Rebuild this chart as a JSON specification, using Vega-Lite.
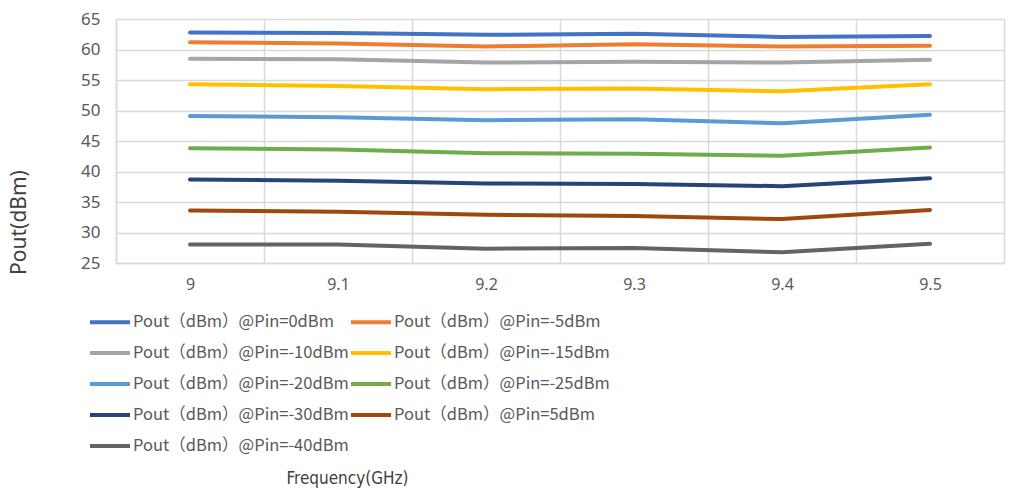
{
  "$schema": "https://vega.github.io/schema/vega-lite/v6.json",
  "autosize": "none",
  "width": 888,
  "height": 244,
  "padding": {"left": 116, "top": 19, "right": 10, "bottom": 227},
  "background": "white",
  "config": {
    "view": {"stroke": null},
    "font": "Noto Sans"
  },
  "data": {
    "values": [
      {"f": "9", "s": "Pout（dBm）@Pin=0dBm", "p": 62.8},
      {"f": "9.1", "s": "Pout（dBm）@Pin=0dBm", "p": 62.7},
      {"f": "9.2", "s": "Pout（dBm）@Pin=0dBm", "p": 62.4},
      {"f": "9.3", "s": "Pout（dBm）@Pin=0dBm", "p": 62.6},
      {"f": "9.4", "s": "Pout（dBm）@Pin=0dBm", "p": 62.05},
      {"f": "9.5", "s": "Pout（dBm）@Pin=0dBm", "p": 62.2},
      {"f": "9", "s": "Pout（dBm）@Pin=-5dBm", "p": 61.2},
      {"f": "9.1", "s": "Pout（dBm）@Pin=-5dBm", "p": 61.0},
      {"f": "9.2", "s": "Pout（dBm）@Pin=-5dBm", "p": 60.5},
      {"f": "9.3", "s": "Pout（dBm）@Pin=-5dBm", "p": 60.85},
      {"f": "9.4", "s": "Pout（dBm）@Pin=-5dBm", "p": 60.5},
      {"f": "9.5", "s": "Pout（dBm）@Pin=-5dBm", "p": 60.6},
      {"f": "9", "s": "Pout（dBm）@Pin=-10dBm", "p": 58.5},
      {"f": "9.1", "s": "Pout（dBm）@Pin=-10dBm", "p": 58.4},
      {"f": "9.2", "s": "Pout（dBm）@Pin=-10dBm", "p": 57.85},
      {"f": "9.3", "s": "Pout（dBm）@Pin=-10dBm", "p": 58.0},
      {"f": "9.4", "s": "Pout（dBm）@Pin=-10dBm", "p": 57.85},
      {"f": "9.5", "s": "Pout（dBm）@Pin=-10dBm", "p": 58.3},
      {"f": "9", "s": "Pout（dBm）@Pin=-15dBm", "p": 54.3},
      {"f": "9.1", "s": "Pout（dBm）@Pin=-15dBm", "p": 54.0},
      {"f": "9.2", "s": "Pout（dBm）@Pin=-15dBm", "p": 53.5},
      {"f": "9.3", "s": "Pout（dBm）@Pin=-15dBm", "p": 53.6},
      {"f": "9.4", "s": "Pout（dBm）@Pin=-15dBm", "p": 53.15},
      {"f": "9.5", "s": "Pout（dBm）@Pin=-15dBm", "p": 54.3},
      {"f": "9", "s": "Pout（dBm）@Pin=-20dBm", "p": 49.1},
      {"f": "9.1", "s": "Pout（dBm）@Pin=-20dBm", "p": 48.9},
      {"f": "9.2", "s": "Pout（dBm）@Pin=-20dBm", "p": 48.4},
      {"f": "9.3", "s": "Pout（dBm）@Pin=-20dBm", "p": 48.55},
      {"f": "9.4", "s": "Pout（dBm）@Pin=-20dBm", "p": 47.9},
      {"f": "9.5", "s": "Pout（dBm）@Pin=-20dBm", "p": 49.3},
      {"f": "9", "s": "Pout（dBm）@Pin=-25dBm", "p": 43.8},
      {"f": "9.1", "s": "Pout（dBm）@Pin=-25dBm", "p": 43.6},
      {"f": "9.2", "s": "Pout（dBm）@Pin=-25dBm", "p": 43.0},
      {"f": "9.3", "s": "Pout（dBm）@Pin=-25dBm", "p": 42.9},
      {"f": "9.4", "s": "Pout（dBm）@Pin=-25dBm", "p": 42.6},
      {"f": "9.5", "s": "Pout（dBm）@Pin=-25dBm", "p": 43.95},
      {"f": "9", "s": "Pout（dBm）@Pin=-30dBm", "p": 38.7},
      {"f": "9.1", "s": "Pout（dBm）@Pin=-30dBm", "p": 38.5},
      {"f": "9.2", "s": "Pout（dBm）@Pin=-30dBm", "p": 38.05},
      {"f": "9.3", "s": "Pout（dBm）@Pin=-30dBm", "p": 37.95},
      {"f": "9.4", "s": "Pout（dBm）@Pin=-30dBm", "p": 37.6},
      {"f": "9.5", "s": "Pout（dBm）@Pin=-30dBm", "p": 38.9},
      {"f": "9", "s": "Pout（dBm）@Pin=5dBm", "p": 33.6},
      {"f": "9.1", "s": "Pout（dBm）@Pin=5dBm", "p": 33.4},
      {"f": "9.2", "s": "Pout（dBm）@Pin=5dBm", "p": 32.9},
      {"f": "9.3", "s": "Pout（dBm）@Pin=5dBm", "p": 32.7},
      {"f": "9.4", "s": "Pout（dBm）@Pin=5dBm", "p": 32.2},
      {"f": "9.5", "s": "Pout（dBm）@Pin=5dBm", "p": 33.7},
      {"f": "9", "s": "Pout（dBm）@Pin=-40dBm", "p": 28.05},
      {"f": "9.1", "s": "Pout（dBm）@Pin=-40dBm", "p": 28.05},
      {"f": "9.2", "s": "Pout（dBm）@Pin=-40dBm", "p": 27.35},
      {"f": "9.3", "s": "Pout（dBm）@Pin=-40dBm", "p": 27.45},
      {"f": "9.4", "s": "Pout（dBm）@Pin=-40dBm", "p": 26.75},
      {"f": "9.5", "s": "Pout（dBm）@Pin=-40dBm", "p": 28.15}
    ]
  },
  "mark": {"type": "line", "strokeWidth": 4, "strokeCap": "round", "strokeJoin": "round"},
  "encoding": {
    "x": {
      "field": "f",
      "type": "ordinal",
      "sort": null,
      "bandPosition": 0.5,
      "scale": {"type": "band", "paddingInner": 0, "paddingOuter": 0},
      "axis": {
        "title": "Frequency(GHz)",
        "titleFont": "DejaVu Sans Condensed",
        "titleFontSize": 17,
        "titleFontWeight": "normal",
        "titleColor": "#404040",
        "titleX": 231,
        "titleY": 215,
        "titleAlign": "center",
        "titleBaseline": "middle",
        "labelAngle": 0,
        "labelFontSize": 16,
        "labelColor": "#595959",
        "labelPadding": 13,
        "ticks": false,
        "tickBand": "extent",
        "grid": true,
        "gridColor": "#d9d9d9",
        "gridWidth": 1.5,
        "domainColor": "#d9d9d9",
        "domainWidth": 1.5
      }
    },
    "y": {
      "field": "p",
      "type": "quantitative",
      "scale": {"domain": [25, 65], "nice": false, "zero": false},
      "axis": {
        "values": [25, 30, 35, 40, 45, 50, 55, 60, 65],
        "title": "Pout(dBm)",
        "titleFontSize": 21,
        "titleFontWeight": "normal",
        "titleColor": "#404040",
        "titleX": -97,
        "titleY": 203,
        "titleAngle": -90,
        "titleAlign": "center",
        "titleBaseline": "middle",
        "labelFontSize": 17,
        "labelColor": "#595959",
        "labelPadding": 16,
        "ticks": false,
        "grid": true,
        "gridColor": "#d9d9d9",
        "gridWidth": 1.5,
        "domainColor": "#d9d9d9",
        "domainWidth": 1.5
      }
    },
    "color": {
      "field": "s",
      "type": "nominal",
      "scale": {
        "domain": ["Pout（dBm）@Pin=0dBm", "Pout（dBm）@Pin=-5dBm", "Pout（dBm）@Pin=-10dBm", "Pout（dBm）@Pin=-15dBm", "Pout（dBm）@Pin=-20dBm", "Pout（dBm）@Pin=-25dBm", "Pout（dBm）@Pin=-30dBm", "Pout（dBm）@Pin=5dBm", "Pout（dBm）@Pin=-40dBm"],
        "range": ["#4472C4", "#ED7D31", "#A5A5A5", "#FFC000", "#5B9BD5", "#70AD47", "#264478", "#9E480E", "#636363"]
      },
      "legend": {
        "title": null,
        "orient": "none",
        "direction": "horizontal",
        "legendX": -28,
        "legendY": 281,
        "columns": 2,
        "padding": 0,
        "symbolType": "stroke",
        "symbolSize": 1600,
        "symbolStrokeWidth": 4,
        "labelFont": "Noto Sans CJK SC",
        "labelFontSize": 16.5,
        "labelColor": "#595959",
        "labelOffset": 1,
        "labelLimit": 400,
        "columnPadding": -16,
        "rowPadding": -3
      }
    }
  }
}
